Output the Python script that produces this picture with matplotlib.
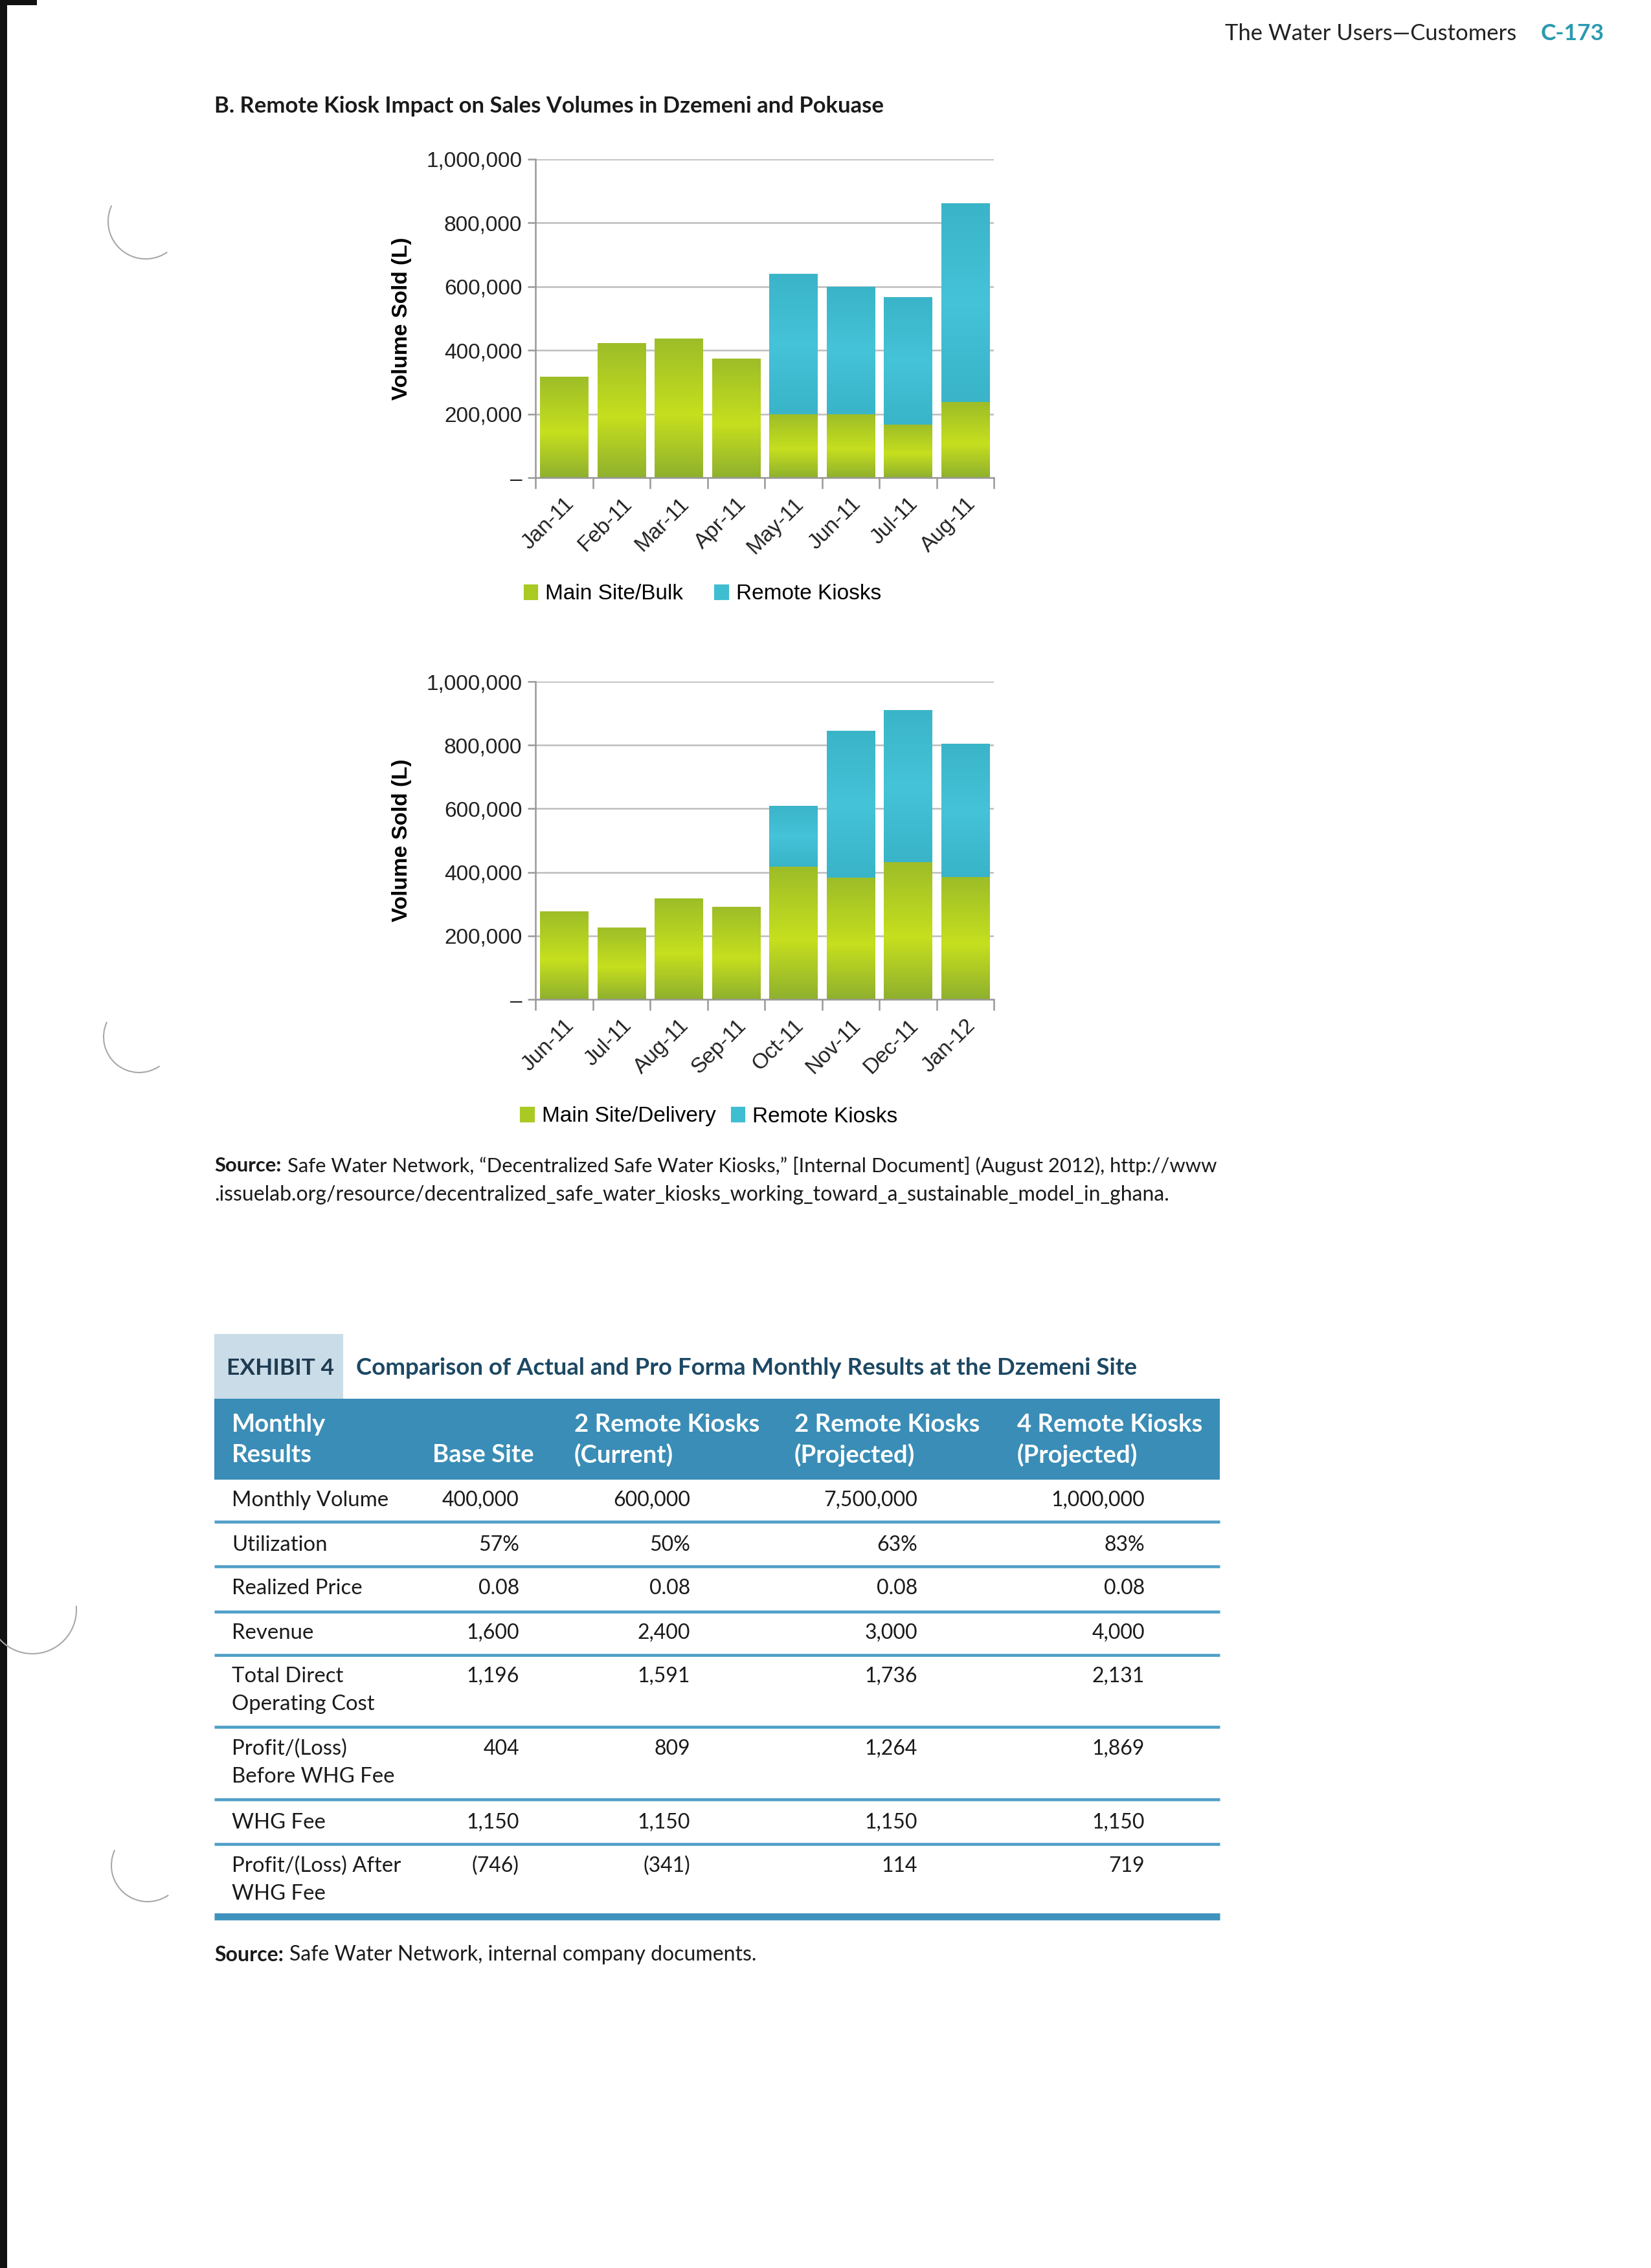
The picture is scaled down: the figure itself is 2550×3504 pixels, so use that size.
import matplotlib
matplotlib.use("Agg")
import matplotlib.pyplot as plt
from matplotlib.patches import Rectangle, Patch, Arc
from matplotlib.colors import LinearSegmentedColormap
import numpy as np

W, H = 2550, 3504

# chart data (litres sold per month)
top_months = ["Jan-11", "Feb-11", "Mar-11", "Apr-11", "May-11", "Jun-11", "Jul-11", "Aug-11"]
top_main = [318000, 422000, 436000, 375000, 200000, 200000, 167000, 237000]
top_kiosk = [0, 0, 0, 0, 440000, 400000, 400000, 625000]

bottom_months = ["Jun-11", "Jul-11", "Aug-11", "Sep-11", "Oct-11", "Nov-11", "Dec-11", "Jan-12"]
bottom_main = [278000, 227000, 318000, 291000, 417000, 382000, 432000, 385000]
bottom_kiosk = [0, 0, 0, 0, 192000, 464000, 479000, 420000]

y_ticks = [0, 200000, 400000, 600000, 800000, 1000000]

# exhibit 4 table
table_headers = ["Monthly\nResults", "Base Site", "2 Remote Kiosks\n(Current)",
                 "2 Remote Kiosks\n(Projected)", "4 Remote Kiosks\n(Projected)"]
row_labels = ["Monthly Volume", "Utilization", "Realized Price", "Revenue",
              "Total Direct\nOperating Cost", "Profit/(Loss)\nBefore WHG Fee",
              "WHG Fee", "Profit/(Loss) After\nWHG Fee"]
base_site = ["400,000", "57%", "0.08", "1,600", "1,196", "404", "1,150", "(746)"]
kiosks2_current = ["600,000", "50%", "0.08", "2,400", "1,591", "809", "1,150", "(341)"]
kiosks2_projected = ["7,500,000", "63%", "0.08", "3,000", "1,736", "1,264", "1,150", "114"]
kiosks4_projected = ["1,000,000", "83%", "0.08", "4,000", "2,131", "1,869", "1,150", "719"]

CHART_FONT = ["Liberation Sans", "DejaVu Sans"]
BOOK_FONT = ["Lato", "DejaVu Sans"]
INK = "#1a1a1a"

green_cmap = LinearSegmentedColormap.from_list(
    "g", [(0, "#8fb02e"), (0.45, "#c6df1e"), (1, "#9dbd28")])
blue_cmap = LinearSegmentedColormap.from_list(
    "b", [(0, "#39b4c9"), (0.5, "#45c3d8"), (1, "#3ab4c8")])

fig = plt.figure(figsize=(W / 300, H / 300), dpi=300)
fig.patch.set_facecolor("white")

page = fig.add_axes([0, 0, 1, 1])
page.set_xlim(0, W)
page.set_ylim(H, 0)
page.axis("off")

# scanned page edge and punch-hole marks
page.add_patch(Rectangle((0, 0), 11, H, facecolor="#111111", edgecolor="none"))
page.add_patch(Rectangle((0, 0), 57, 8, facecolor="#111111", edgecolor="none"))
for cx, cy, r, t1, t2 in [(225, 342, 58, 55, 205), (215, 1602, 55, 55, 205),
                          (50, 2487, 68, -5, 160), (228, 2882, 56, 55, 205)]:
    page.add_patch(Arc((cx, cy), 2 * r, 2 * r, theta1=t1, theta2=t2, color="#a8a8a8", lw=0.5))


def box(left, top, right, bottom):
    return fig.add_axes([left / W, 1 - bottom / H, (right - left) / W, (bottom - top) / H])


def shade(ax, bars, cmap):
    grad = np.linspace(0, 1, 256).reshape(-1, 1)
    for rect in bars:
        if rect.get_height() <= 0:
            continue
        x0, y0 = rect.get_x(), rect.get_y()
        im = ax.imshow(grad, extent=[x0, x0 + rect.get_width(), y0, y0 + rect.get_height()],
                       origin="lower", cmap=cmap, aspect="auto", zorder=2.5)
        im.set_clip_path(rect)


def stacked_chart(ax, months, main, kiosk, main_label, legend_xy, colspace):
    x = np.arange(len(months))
    b1 = ax.bar(x, main, width=0.84, color="#b3d020", zorder=2)
    b2 = ax.bar(x, kiosk, bottom=main, width=0.84, color="#3fbdd1", zorder=2)
    shade(ax, b1, green_cmap)
    shade(ax, b2, blue_cmap)

    ax.set_xlim(-0.5, len(months) - 0.5)
    ax.set_ylim(0, 1000000)
    ax.set_yticks(y_ticks)
    ax.set_yticklabels(["\u2013"] + [f"{v:,}" for v in y_ticks[1:]],
                       fontsize=8, family=CHART_FONT, color="#222222")
    ax.set_xticks(x)
    ax.set_xticklabels(months, rotation=45, ha="right", rotation_mode="anchor",
                       fontsize=8, family=CHART_FONT, color="#222222")
    ax.set_xticks(np.arange(-0.5, len(months)), minor=True)
    ax.tick_params(axis="x", which="major", length=0, pad=6)
    ax.tick_params(axis="x", which="minor", length=4, color="#999999", width=0.6)
    ax.tick_params(axis="y", length=3, color="#999999", width=0.6, pad=2)

    ax.grid(axis="y", color="#bdbdbd", lw=0.6, zorder=0)
    for s in ["top", "right"]:
        ax.spines[s].set_visible(False)
    for s in ["left", "bottom"]:
        ax.spines[s].set_color("#999999")
        ax.spines[s].set_linewidth(0.6)

    ax.set_ylabel("Volume Sold (L)", fontsize=8, fontweight="bold", family=CHART_FONT)
    ax.yaxis.set_label_coords(-0.27, 0.5)

    handles = [Patch(color="#a9c923", label=main_label), Patch(color="#3fbdd1", label="Remote Kiosks")]
    fig.legend(handles=handles, loc="center", ncol=2, frameon=False,
               bbox_to_anchor=(legend_xy[0] / W, 1 - legend_xy[1] / H),
               prop={"family": CHART_FONT, "size": 8},
               handlelength=0.55, handleheight=0.55, handletextpad=0.4, columnspacing=colspace)


def source_line(x, y, rest, size):
    lead = page.text(x, y, "Source:", ha="left", va="center", fontsize=size,
                     fontweight="bold", family=BOOK_FONT, color=INK)
    page.annotate(rest, xy=(1, 0.5), xycoords=lead, xytext=(2.2, 0), textcoords="offset points",
                  ha="left", va="center", fontsize=size, family=BOOK_FONT, color=INK)


# page header
page.text(2342, 52, "The Water Users\u2014Customers", ha="right", va="center",
          fontsize=8.3, family=BOOK_FONT, color="#222222")
page.text(2380, 52, "C-173", ha="left", va="center", fontsize=8.5, fontweight="bold",
          family=BOOK_FONT, color="#2a9ab0")
page.text(331, 164, "B. Remote Kiosk Impact on Sales Volumes in Dzemeni and Pokuase",
          ha="left", va="center", fontsize=8.3, fontweight="bold", family=BOOK_FONT, color=INK)

ax1 = box(827, 246, 1535, 738)
stacked_chart(ax1, top_months, top_main, top_kiosk, "Main Site/Bulk", (1086, 918), 1.5)

ax2 = box(827, 1053, 1535, 1544)
stacked_chart(ax2, bottom_months, bottom_main, bottom_kiosk, "Main Site/Delivery", (1096, 1725), 0.75)

# source lines under the charts
source_line(331, 1801, "Safe Water Network, \u201cDecentralized Safe Water Kiosks,\u201d [Internal Document] "
            "(August 2012), http://www", 7.45)
page.text(331, 1846, ".issuelab.org/resource/decentralized_safe_water_kiosks_working_toward_a_"
          "sustainable_model_in_ghana.", ha="left", va="center", fontsize=7.7, family=BOOK_FONT, color=INK)

# exhibit 4 title
page.add_patch(Rectangle((331, 2061), 199, 100, facecolor="#c9dce7", edgecolor="none"))
page.text(350, 2114, "EXHIBIT 4", ha="left", va="center", fontsize=8.5, fontweight="bold",
          family=BOOK_FONT, color="#1f3b52")
page.text(550, 2114, "Comparison of Actual and Pro Forma Monthly Results at the Dzemeni Site",
          ha="left", va="center", fontsize=8.8, fontweight="bold", family=BOOK_FONT, color="#1c4864")

# header band
TL, TR = 331, 1884
page.add_patch(Rectangle((TL, 2161), TR - TL, 125, facecolor="#3a8db6", edgecolor="none"))
header_x = [358, 668, 887, 1227, 1571]
for hx, txt in zip(header_x, table_headers):
    lines = txt.split("\n")
    if len(lines) == 1:
        lines = ["", lines[0]]
    page.text(hx, 2201, lines[0], ha="left", va="center", fontsize=9.2, fontweight="bold",
              family=BOOK_FONT, color="white")
    page.text(hx, 2248, lines[1], ha="left", va="center", fontsize=9.2, fontweight="bold",
              family=BOOK_FONT, color="white")

# body rows
row_text_y = [2318, 2387, 2454, 2523, 2590, 2702, 2816, 2883]
row_lines_y = [2351, 2420, 2490, 2557, 2668, 2780, 2849]
value_right_x = [802, 1066, 1417, 1768]
columns = [base_site, kiosks2_current, kiosks2_projected, kiosks4_projected]
for i, label in enumerate(row_labels):
    y = row_text_y[i]
    for j, part in enumerate(label.split("\n")):
        page.text(358, y + j * 43, part, ha="left", va="center", fontsize=7.9,
                  family=BOOK_FONT, color=INK)
    for rx, col in zip(value_right_x, columns):
        page.text(rx, y, col[i], ha="right", va="center", fontsize=7.7,
                  family=BOOK_FONT, color=INK)
for ly in row_lines_y:
    page.plot([TL, TR], [ly, ly], color="#4f9fc8", lw=1.1, solid_capstyle="butt")
page.plot([TL, TR], [2961, 2961], color="#3f92bd", lw=2.6, solid_capstyle="butt")

source_line(331, 3020, "Safe Water Network, internal company documents.", 7.7)

fig.savefig("out.png", dpi=300)
